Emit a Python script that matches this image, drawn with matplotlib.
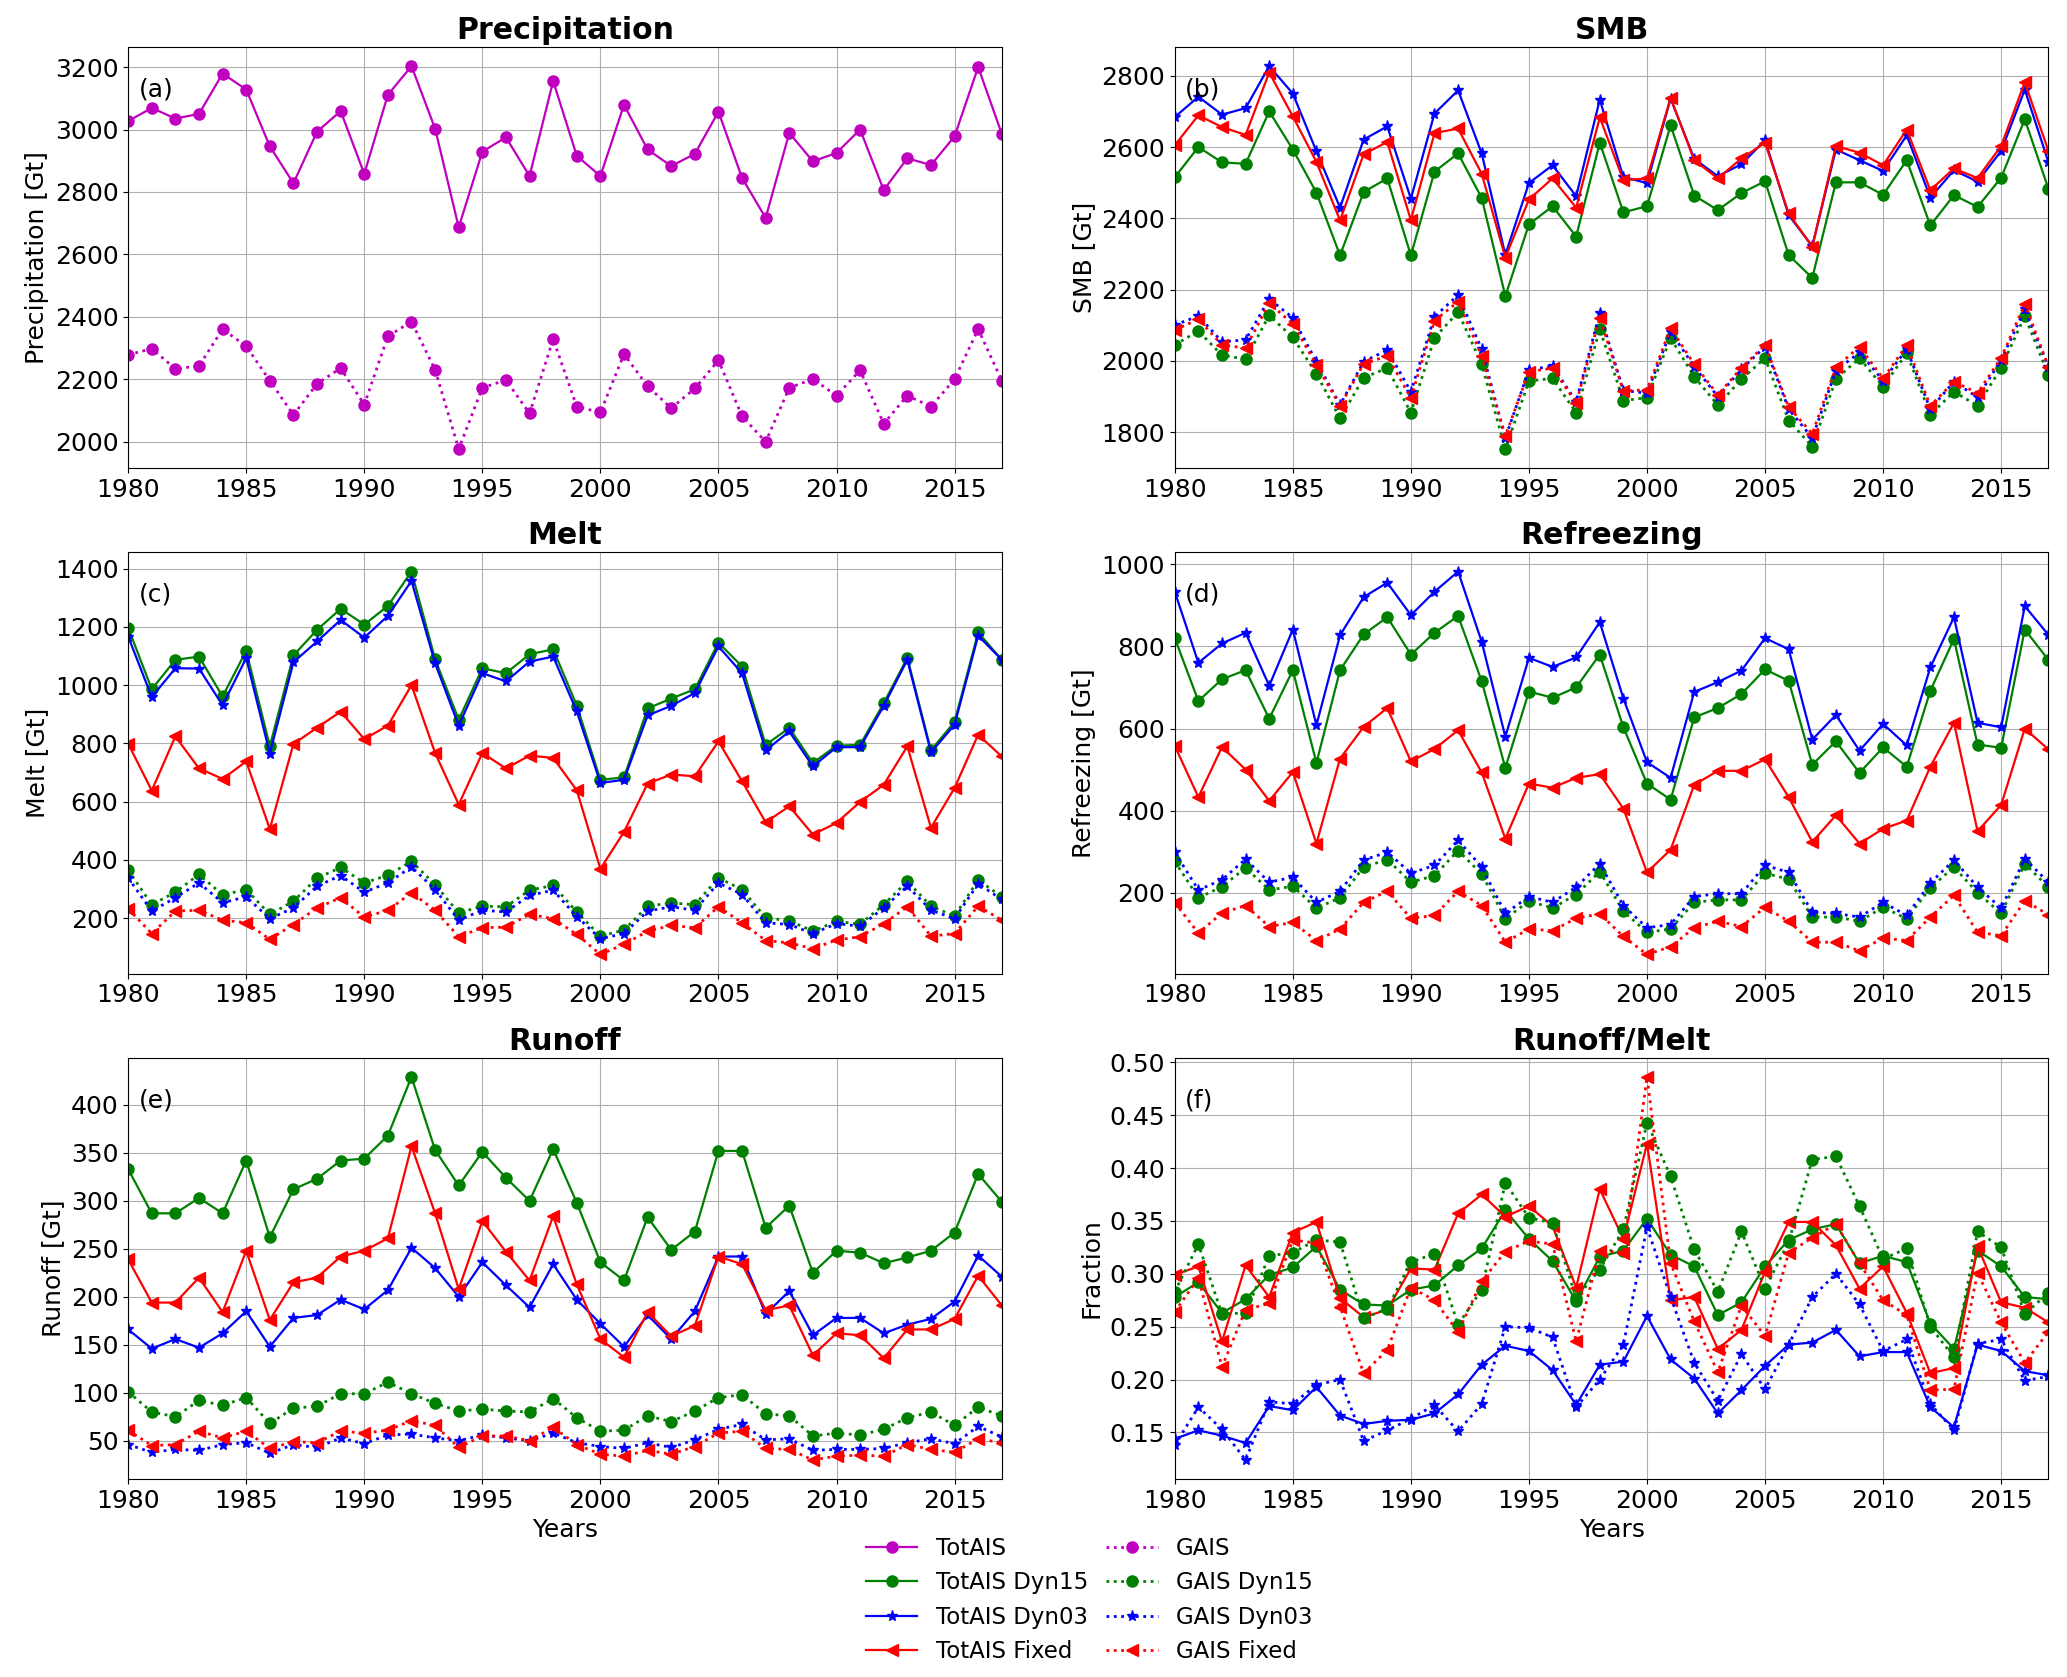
import numpy as np
import matplotlib.pyplot as plt

years = np.arange(1980, 2018)

# (a) Precipitation [Gt]
precip_tot = [3027, 3069, 3035, 3050, 3179, 3128, 2946, 2828, 2993, 3059, 2858, 3111, 3203, 3003, 2687, 2929, 2975, 2851, 3155, 2916,
              2851, 3079, 2936, 2883, 2922, 3057, 2845, 2717, 2989, 2898, 2925, 3000, 2806, 2908, 2886, 2978, 3200, 2986]
precip_gais = [2279, 2298, 2234, 2243, 2361, 2306, 2196, 2086, 2186, 2236, 2119, 2338, 2385, 2231, 1977, 2173, 2198, 2091, 2329, 2113,
               2094, 2281, 2178, 2108, 2171, 2261, 2082, 2000, 2173, 2201, 2148, 2229, 2058, 2148, 2113, 2200, 2361, 2196]

# (b) SMB [Gt]
smb_tot_dyn15 = [2515, 2600, 2557, 2553, 2700, 2593, 2472, 2296, 2474, 2512, 2296, 2531, 2582, 2457, 2182, 2383, 2434, 2349, 2612, 2417,
                 2434, 2661, 2464, 2423, 2471, 2504, 2297, 2233, 2501, 2501, 2466, 2563, 2380, 2465, 2432, 2514, 2678, 2483]
smb_tot_dyn03 = [2684, 2741, 2691, 2709, 2827, 2750, 2588, 2430, 2621, 2658, 2455, 2694, 2759, 2582, 2298, 2499, 2549, 2462, 2733, 2516,
                 2499, 2736, 2567, 2518, 2552, 2619, 2409, 2322, 2593, 2563, 2533, 2633, 2458, 2535, 2503, 2589, 2761, 2558]
smb_tot_fixed = [2605, 2689, 2656, 2634, 2809, 2686, 2558, 2394, 2580, 2614, 2395, 2639, 2652, 2525, 2290, 2453, 2512, 2430, 2683, 2507,
                 2512, 2738, 2563, 2512, 2568, 2612, 2414, 2320, 2603, 2584, 2549, 2649, 2479, 2540, 2513, 2603, 2782, 2589]
smb_gais_dyn15 = [2045, 2084, 2016, 2005, 2128, 2066, 1964, 1839, 1953, 1980, 1855, 2065, 2137, 1991, 1753, 1944, 1951, 1855, 2089, 1889,
                  1897, 2064, 1956, 1876, 1949, 2008, 1833, 1760, 1949, 2008, 1928, 2022, 1849, 1914, 1874, 1981, 2126, 1961]
smb_gais_dyn03 = [2101, 2126, 2054, 2059, 2174, 2121, 1998, 1877, 1998, 2031, 1914, 2124, 2185, 2033, 1784, 1975, 1986, 1886, 2134, 1917,
                  1910, 2082, 1984, 1900, 1977, 2040, 1865, 1784, 1973, 2024, 1945, 2033, 1865, 1942, 1898, 2003, 2145, 1984]
smb_gais_fixed = [2087, 2117, 2045, 2036, 2162, 2104, 1989, 1874, 1992, 2014, 1896, 2113, 2166, 2014, 1790, 1970, 1980, 1882, 2121, 1916,
                  1919, 2092, 1991, 1905, 1981, 2045, 1871, 1796, 1982, 2040, 1951, 2044, 1874, 1942, 1910, 2009, 2160, 1984]

# (c) Melt [Gt]
melt_tot_dyn15 = [1197, 986, 1087, 1098, 961, 1118, 790, 1102, 1190, 1262, 1208, 1272, 1390, 1089, 881, 1058, 1041, 1106, 1123, 930,
                  675, 683, 920, 954, 986, 1146, 1064, 795, 853, 733, 792, 795, 938, 1094, 776, 874, 1181, 1087]
melt_tot_dyn03 = [1167, 959, 1058, 1057, 931, 1093, 765, 1079, 1150, 1224, 1163, 1238, 1358, 1075, 861, 1041, 1013, 1081, 1098, 910,
                  664, 675, 896, 929, 973, 1133, 1041, 776, 841, 721, 787, 787, 929, 1087, 769, 864, 1170, 1087]
melt_tot_fixed = [799, 638, 824, 714, 678, 738, 506, 798, 854, 909, 815, 861, 1000, 767, 590, 767, 714, 758, 750, 639,
                  369, 496, 662, 693, 687, 807, 670, 529, 584, 487, 527, 599, 658, 790, 510, 647, 830, 755]
melt_gais_dyn15 = [365, 246, 289, 350, 280, 298, 213, 258, 337, 374, 321, 347, 395, 315, 218, 241, 239, 296, 312, 221,
                   138, 159, 241, 252, 246, 338, 298, 201, 191, 155, 189, 179, 246, 326, 241, 207, 331, 273]
melt_gais_dyn03 = [338, 224, 270, 321, 253, 273, 198, 235, 310, 346, 289, 321, 376, 298, 193, 227, 221, 278, 296, 205,
                   129, 147, 224, 239, 227, 321, 281, 184, 178, 147, 181, 172, 235, 310, 227, 198, 318, 264]
melt_gais_fixed = [232, 147, 224, 227, 193, 184, 127, 178, 235, 270, 203, 227, 287, 227, 136, 167, 169, 213, 198, 144,
                   75, 110, 155, 175, 167, 239, 184, 123, 115, 95, 125, 136, 181, 239, 138, 147, 241, 193]

# (d) Refreezing [Gt]
refr_tot_dyn15 = [820, 667, 720, 742, 624, 742, 516, 742, 829, 871, 780, 833, 874, 715, 504, 690, 675, 700, 780, 603,
                  466, 427, 627, 650, 684, 744, 716, 512, 569, 492, 554, 507, 692, 818, 561, 553, 841, 767]
refr_tot_dyn03 = [933, 760, 807, 833, 704, 841, 608, 827, 920, 955, 876, 933, 982, 811, 580, 772, 750, 773, 859, 673,
                  518, 480, 689, 713, 741, 820, 793, 573, 633, 546, 611, 559, 749, 871, 614, 603, 898, 828]
refr_tot_fixed = [558, 433, 555, 500, 424, 494, 320, 527, 604, 650, 520, 550, 596, 493, 332, 466, 456, 480, 489, 405,
                  250, 305, 463, 497, 497, 525, 433, 324, 389, 320, 356, 376, 507, 614, 350, 414, 600, 549]
refr_gais_dyn15 = [277, 188, 215, 261, 207, 216, 163, 188, 263, 281, 226, 242, 303, 246, 137, 180, 163, 196, 252, 155,
                   104, 112, 177, 183, 183, 248, 233, 141, 141, 131, 165, 137, 212, 263, 200, 150, 271, 214]
refr_gais_dyn03 = [299, 207, 232, 282, 226, 238, 177, 204, 280, 299, 248, 267, 328, 263, 150, 191, 177, 214, 271, 169,
                   115, 123, 191, 198, 198, 267, 250, 153, 150, 141, 177, 145, 224, 280, 214, 163, 283, 226]
refr_gais_fixed = [176, 102, 151, 169, 118, 128, 84, 112, 177, 204, 138, 145, 204, 169, 80, 112, 108, 138, 149, 94,
                   50, 69, 115, 131, 118, 165, 131, 80, 80, 59, 90, 84, 141, 194, 104, 96, 181, 147]

# (e) Runoff [Gt]
run_tot_dyn15 = [333, 287, 287, 303, 287, 342, 262, 312, 323, 342, 344, 368, 429, 353, 316, 351, 324, 300, 354, 298,
                 236, 217, 283, 249, 268, 352, 352, 272, 295, 225, 248, 246, 235, 241, 248, 267, 328, 299]
run_tot_dyn03 = [166, 146, 156, 147, 162, 185, 148, 178, 181, 197, 187, 207, 251, 230, 200, 236, 212, 189, 234, 197,
                 172, 148, 181, 156, 185, 242, 242, 182, 206, 160, 178, 178, 162, 171, 177, 195, 243, 221]
run_tot_fixed = [239, 194, 194, 220, 184, 248, 176, 215, 220, 242, 248, 261, 357, 287, 208, 279, 247, 217, 284, 213,
                 156, 137, 184, 159, 170, 242, 234, 186, 191, 139, 162, 160, 136, 166, 166, 177, 222, 191]
run_gais_dyn15 = [101, 80, 75, 92, 87, 95, 68, 84, 86, 99, 99, 111, 99, 89, 81, 83, 81, 80, 94, 74,
                  60, 61, 76, 70, 81, 95, 98, 78, 76, 55, 58, 56, 62, 74, 80, 66, 85, 76]
run_gais_dyn03 = [46, 38, 41, 40, 46, 48, 37, 46, 43, 53, 47, 56, 57, 53, 50, 56, 53, 50, 58, 48,
                  44, 42, 48, 43, 51, 62, 67, 51, 52, 40, 41, 41, 42, 48, 52, 47, 65, 54]
run_gais_fixed = [61, 45, 46, 60, 53, 60, 42, 49, 48, 60, 58, 61, 71, 66, 43, 55, 55, 50, 64, 46,
                  36, 34, 40, 36, 44, 58, 60, 42, 41, 30, 34, 35, 34, 46, 41, 38, 52, 48]

# (f) Runoff/Melt fraction
frac_tot_dyn15 = [0.278, 0.292, 0.263, 0.276, 0.299, 0.306, 0.326, 0.285, 0.271, 0.270, 0.285, 0.289, 0.308, 0.324, 0.360, 0.333,
                  0.312, 0.274, 0.316, 0.322, 0.352, 0.318, 0.307, 0.261, 0.273, 0.307, 0.332, 0.342, 0.347, 0.310, 0.317, 0.311,
                  0.253, 0.229, 0.322, 0.307, 0.278, 0.276]
frac_tot_dyn03 = [0.144, 0.152, 0.147, 0.140, 0.175, 0.171, 0.193, 0.166, 0.158, 0.161, 0.162, 0.168, 0.186, 0.214, 0.232, 0.227,
                  0.209, 0.176, 0.214, 0.217, 0.260, 0.219, 0.201, 0.168, 0.190, 0.213, 0.233, 0.235, 0.247, 0.222, 0.226, 0.226,
                  0.174, 0.155, 0.233, 0.227, 0.208, 0.204]
frac_tot_fixed = [0.299, 0.307, 0.236, 0.308, 0.278, 0.339, 0.349, 0.277, 0.259, 0.266, 0.305, 0.304, 0.357, 0.375, 0.354, 0.364,
                  0.345, 0.287, 0.380, 0.333, 0.423, 0.275, 0.278, 0.229, 0.247, 0.302, 0.349, 0.349, 0.327, 0.286, 0.307, 0.263,
                  0.206, 0.211, 0.326, 0.273, 0.268, 0.254]
frac_gais_dyn15 = [0.283, 0.328, 0.262, 0.263, 0.317, 0.320, 0.332, 0.330, 0.258, 0.267, 0.311, 0.319, 0.252, 0.285, 0.386, 0.353,
                   0.348, 0.277, 0.304, 0.342, 0.443, 0.392, 0.323, 0.283, 0.340, 0.286, 0.330, 0.408, 0.411, 0.364, 0.314, 0.324,
                   0.250, 0.221, 0.340, 0.325, 0.262, 0.282]
frac_gais_dyn03 = [0.138, 0.174, 0.153, 0.124, 0.179, 0.177, 0.195, 0.200, 0.142, 0.152, 0.163, 0.176, 0.151, 0.177, 0.250, 0.249,
                   0.240, 0.174, 0.200, 0.233, 0.344, 0.278, 0.216, 0.180, 0.224, 0.191, 0.233, 0.278, 0.300, 0.271, 0.227, 0.238,
                   0.177, 0.152, 0.234, 0.238, 0.199, 0.203]
frac_gais_fixed = [0.264, 0.296, 0.212, 0.266, 0.272, 0.332, 0.329, 0.269, 0.206, 0.228, 0.287, 0.275, 0.245, 0.293, 0.321, 0.331,
                   0.328, 0.236, 0.322, 0.320, 0.486, 0.310, 0.255, 0.207, 0.270, 0.241, 0.320, 0.334, 0.347, 0.310, 0.275, 0.261,
                   0.190, 0.191, 0.301, 0.254, 0.216, 0.245]

yticks = {
    'a': np.arange(2000, 3201, 200),
    'b': np.arange(1800, 2801, 200),
    'c': np.arange(200, 1401, 200),
    'd': np.arange(200, 1001, 200),
    'e': np.arange(50, 401, 50),
    'f': np.arange(0.15, 0.501, 0.05),
}

plt.rcParams['font.size'] = 18

fig, axes = plt.subplots(3, 2, figsize=(20.67, 16.77), dpi=100)
fig.subplots_adjust(left=0.062, right=0.991, top=0.972, bottom=0.118, wspace=0.198, hspace=0.2)

ms = 8
lw = 1.6

def three_runs(ax, tot15, tot03, totfx, g15, g03, gfx):
    ax.plot(years, tot15, '-', color='g', marker='o', ms=ms, lw=lw, label='TotAIS Dyn15')
    ax.plot(years, tot03, '-', color='b', marker='*', ms=ms, lw=lw, label='TotAIS Dyn03')
    ax.plot(years, totfx, '-', color='r', marker='<', ms=ms, lw=lw, label='TotAIS Fixed')
    ax.plot(years, g15, ':', color='g', marker='o', ms=ms, lw=2, label='GAIS Dyn15')
    ax.plot(years, g03, ':', color='b', marker='*', ms=ms, lw=2, label='GAIS Dyn03')
    ax.plot(years, gfx, ':', color='r', marker='<', ms=ms, lw=2, label='GAIS Fixed')

# (a)
ax = axes[0, 0]
h_tot, = ax.plot(years, precip_tot, '-', color='m', marker='o', ms=ms, lw=lw, label='TotAIS')
h_gais, = ax.plot(years, precip_gais, ':', color='m', marker='o', ms=ms, lw=2, label='GAIS')
ax.set_title('Precipitation', fontweight='bold')
ax.set_ylabel('Precipitation [Gt]')

three_runs(axes[0, 1], smb_tot_dyn15, smb_tot_dyn03, smb_tot_fixed, smb_gais_dyn15, smb_gais_dyn03, smb_gais_fixed)
axes[0, 1].set_title('SMB', fontweight='bold')
axes[0, 1].set_ylabel('SMB [Gt]')

three_runs(axes[1, 0], melt_tot_dyn15, melt_tot_dyn03, melt_tot_fixed, melt_gais_dyn15, melt_gais_dyn03, melt_gais_fixed)
axes[1, 0].set_title('Melt', fontweight='bold')
axes[1, 0].set_ylabel('Melt [Gt]')

three_runs(axes[1, 1], refr_tot_dyn15, refr_tot_dyn03, refr_tot_fixed, refr_gais_dyn15, refr_gais_dyn03, refr_gais_fixed)
axes[1, 1].set_title('Refreezing', fontweight='bold')
axes[1, 1].set_ylabel('Refreezing [Gt]')

three_runs(axes[2, 0], run_tot_dyn15, run_tot_dyn03, run_tot_fixed, run_gais_dyn15, run_gais_dyn03, run_gais_fixed)
axes[2, 0].set_title('Runoff', fontweight='bold')
axes[2, 0].set_ylabel('Runoff [Gt]')
axes[2, 0].set_xlabel('Years')

three_runs(axes[2, 1], frac_tot_dyn15, frac_tot_dyn03, frac_tot_fixed, frac_gais_dyn15, frac_gais_dyn03, frac_gais_fixed)
axes[2, 1].set_title('Runoff/Melt', fontweight='bold')
axes[2, 1].set_ylabel('Fraction')
axes[2, 1].set_xlabel('Years')

for ax, key in zip(axes.flat, 'abcdef'):
    ax.set_xlim(1980, 2017)
    ax.set_xticks(np.arange(1980, 2016, 5))
    ax.set_yticks(yticks[key])
    if key == 'f':
        ax.set_yticklabels(['%.2f' % v for v in yticks[key]])
    ax.grid(True)
    ax.text(0.012, 0.9, '(%s)' % key, transform=ax.transAxes, ha='left', va='center')

# legend below the panels
hs, ls = axes[0, 1].get_legend_handles_labels()
handles = [h_tot] + hs[:3] + [h_gais] + hs[3:]
labels = ['TotAIS'] + ls[:3] + ['GAIS'] + ls[3:]
fig.legend(handles, labels, ncol=2, loc='center', bbox_to_anchor=(0.527, 0.046),
           frameon=False, fontsize=16.5, handlelength=2.25, columnspacing=0.8, labelspacing=0.5)

fig.savefig('out.png', dpi=100)
